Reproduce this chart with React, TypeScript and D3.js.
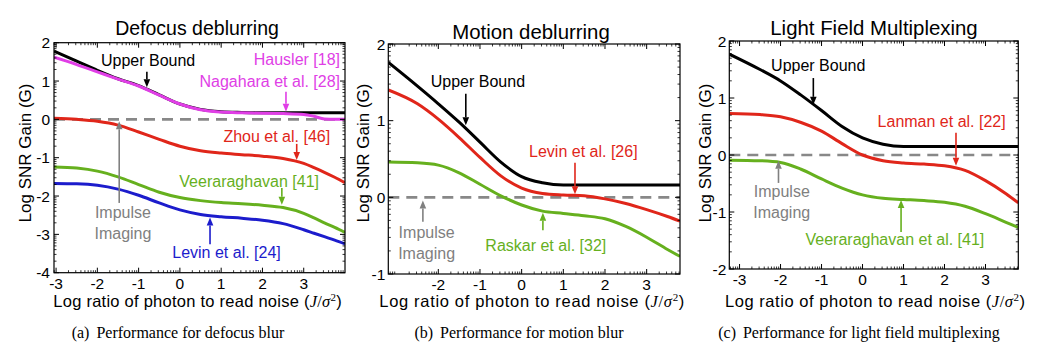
import React from 'react';
import * as d3 from 'd3';

const W = 1044;
const H = 354;
const SANS = '"Liberation Sans", Arial, sans-serif';
const SERIF = '"Liberation Serif", "Times New Roman", serif';

const BLACK = '#000000';
const MAGENTA = '#e03ee6';
const RED = '#e0261a';
const GREEN = '#66b01e';
const BLUE = '#1c1ccc';
const GRAY = '#888888';

// (a) defocus deblurring
const xA = [-3.05, -2.5, -2, -1.5, -1, -0.5, 0, 0.5, 1, 1.5, 2, 2.5, 3, 3.25, 3.5, 3.75, 4];
const upperA = [1.78, 1.52, 1.28, 1.06, 0.88, 0.64, 0.4, 0.26, 0.2, 0.18, 0.17, 0.17, 0.17, 0.17, 0.17, 0.17, 0.17];
const hauslerA = [1.62, 1.43, 1.24, 1.05, 0.87, 0.63, 0.4, 0.25, 0.19, 0.17, 0.16, 0.15, 0.13, 0.08, 0.01, 0.0, 0.0];
const zhouA = [0.03, 0.0, -0.05, -0.15, -0.33, -0.52, -0.7, -0.82, -0.88, -0.92, -0.96, -1.02, -1.15, -1.26, -1.38, -1.51, -1.65];
const veeraA = [-1.24, -1.27, -1.35, -1.5, -1.7, -1.9, -2.04, -2.12, -2.17, -2.2, -2.24, -2.3, -2.45, -2.57, -2.7, -2.82, -2.95];
const levinA = [-1.67, -1.68, -1.72, -1.82, -1.98, -2.18, -2.36, -2.48, -2.54, -2.58, -2.63, -2.72, -2.88, -2.97, -3.06, -3.15, -3.25];

// (b) motion deblurring
const xB = [-3.2, -2.5, -2, -1.5, -1, -0.5, 0, 0.5, 1, 1.5, 2, 2.5, 3, 3.5, 3.8];
const upperB = [1.76, 1.45, 1.22, 0.98, 0.72, 0.46, 0.27, 0.19, 0.16, 0.16, 0.16, 0.16, 0.16, 0.16, 0.16];
const levinB = [1.4, 1.22, 1.02, 0.78, 0.52, 0.28, 0.12, 0.05, 0.03, 0.02, -0.02, -0.08, -0.16, -0.25, -0.31];
const raskarB = [0.46, 0.45, 0.42, 0.32, 0.17, 0.02, -0.1, -0.18, -0.21, -0.24, -0.28, -0.38, -0.52, -0.68, -0.77];

// (c) light field multiplexing
const xC = [-3.25, -2.5, -2, -1.5, -1, -0.5, 0, 0.5, 1, 1.5, 2, 2.5, 3, 3.5, 3.8];
const upperC = [1.77, 1.5, 1.3, 1.05, 0.78, 0.5, 0.3, 0.19, 0.15, 0.15, 0.15, 0.15, 0.15, 0.15, 0.15];
const lanmanC = [0.73, 0.71, 0.67, 0.57, 0.42, 0.2, 0.0, -0.1, -0.14, -0.16, -0.19, -0.27, -0.45, -0.68, -0.84];
const veeraC = [-0.09, -0.1, -0.13, -0.25, -0.42, -0.58, -0.7, -0.76, -0.78, -0.8, -0.83, -0.9, -1.03, -1.18, -1.27];

const xTicksA = [-3, -2, -1, 0, 1, 2, 3];
const xTicksB = [-2, -1, 0, 1, 2, 3];
const xTicksC = [-3, -2, -1, 0, 1, 2, 3];
const yTicksA = [-4, -3, -2, -1, 0, 1, 2];
const yTicksB = [-1, 0, 1, 2];
const yTicksC = [-2, -1, 0, 1, 2];

// annotations in data units: label position and an optional vertical arrow
const notesA = [
  { lines: ['Upper Bound'], color: BLACK, anchor: 'middle', x: -0.77, y: 1.4, ax: -0.8, a0: 1.24, a1: 0.84 },
  { lines: ['Hausler [18]'], color: MAGENTA, anchor: 'end', x: 3.88, y: 1.42 },
  { lines: ['Nagahara et al. [28]'], color: MAGENTA, anchor: 'end', x: 3.88, y: 0.84, ax: 2.57, a0: 0.72, a1: 0.2 },
  { lines: ['Zhou et al. [46]'], color: RED, anchor: 'end', x: 3.64, y: -0.58, ax: 2.83, a0: -0.64, a1: -1.06 },
  { lines: ['Veeraraghavan [41]'], color: GREEN, anchor: 'end', x: 3.37, y: -1.76, ax: 2.47, a0: -1.79, a1: -2.23 },
  { lines: ['Levin et al. [24]'], color: BLUE, anchor: 'middle', x: 1.13, y: -3.62, ax: 0.73, a0: -3.26, a1: -2.56 },
  { lines: ['Impulse', 'Imaging'], color: '#808080', anchor: 'middle', x: -1.38, y: -2.57, ax: -1.47, a0: -2.18, a1: -0.05, gap: 0.55 },
];
const notesB = [
  { lines: ['Upper Bound'], color: BLACK, anchor: 'middle', x: -1.05, y: 1.44, ax: -1.34, a0: 1.35, a1: 0.94 },
  { lines: ['Levin et al. [26]'], color: RED, anchor: 'middle', x: 1.48, y: 0.53, ax: 1.28, a0: 0.45, a1: 0.04 },
  { lines: ['Raskar et al. [32]'], color: GREEN, anchor: 'middle', x: 0.58, y: -0.7, ax: 0.51, a0: -0.43, a1: -0.2 },
  { lines: ['Impulse', 'Imaging'], color: '#808080', anchor: 'middle', x: -2.28, y: -0.53, ax: -2.37, a0: -0.32, a1: -0.04, gap: 0.27 },
];
const notesC = [
  { lines: ['Upper Bound'], color: BLACK, anchor: 'middle', x: -1.08, y: 1.48, ax: -1.2, a0: 1.35, a1: 0.88 },
  { lines: ['Lanman et al. [22]'], color: RED, anchor: 'middle', x: 1.93, y: 0.5, ax: 2.28, a0: 0.39, a1: -0.19 },
  { lines: ['Impulse', 'Imaging'], color: '#808080', anchor: 'middle', x: -1.97, y: -0.73, ax: -2.05, a0: -0.49, a1: -0.1, gap: 0.38 },
  { lines: ['Veeraraghavan et al. [41]'], color: GREEN, anchor: 'middle', x: 0.79, y: -1.58, ax: 0.94, a0: -1.35, a1: -0.79 },
];

const panels = [
  {
    key: 'a', left: 54, right: 345, top: 42.7, bottom: 272.7,
    xDomain: [-3.05, 4.0], yDomain: [-4, 2], xTicks: xTicksA, yTicks: yTicksA,
    title: 'Defocus deblurring', titleX: 197, titleY: 34.5, titleSize: 19.5,
    xlabL: 53.3, xlabR: 341.7, ylabX: 31, tickGap: 4,
    caption: ['(a)', 'Performance for defocus blur'], captionX: 178,
    series: [
      { x: xA, y: upperA, color: BLACK },
      { x: xA, y: hauslerA, color: MAGENTA },
      { x: xA, y: zhouA, color: RED },
      { x: xA, y: veeraA, color: GREEN },
      { x: xA, y: levinA, color: BLUE },
    ],
    notes: notesA,
  },
  {
    key: 'b', left: 388.3, right: 680, top: 44, bottom: 274,
    xDomain: [-3.2, 3.8], yDomain: [-1, 2], xTicks: xTicksB, yTicks: yTicksB,
    title: 'Motion deblurring', titleX: 531, titleY: 39, titleSize: 20.4,
    xlabL: 379.3, xlabR: 684.3, ylabX: 369, tickGap: 3,
    caption: ['(b)', 'Performance for motion blur'], captionX: 519,
    series: [
      { x: xB, y: upperB, color: BLACK },
      { x: xB, y: levinB, color: RED },
      { x: xB, y: raskarB, color: GREEN },
    ],
    notes: notesB,
  },
  {
    key: 'c', left: 729.3, right: 1018.3, top: 41, bottom: 269,
    xDomain: [-3.25, 3.8], yDomain: [-2, 2], xTicks: xTicksC, yTicks: yTicksC,
    title: 'Light Field Multiplexing', titleX: 874, titleY: 34.5, titleSize: 20.4,
    xlabL: 725, xlabR: 1025, ylabX: 711, tickGap: 3,
    caption: ['(c)', 'Performance for light field multiplexing'], captionX: 859,
    series: [
      { x: xC, y: upperC, color: BLACK },
      { x: xC, y: lanmanC, color: RED },
      { x: xC, y: veeraC, color: GREEN },
    ],
    notes: notesC,
  },
];

function minorTicks(domain: number[]) {
  const out: number[] = [];
  for (let n = Math.floor(domain[0]) - 1; n <= Math.ceil(domain[1]); n++) {
    for (let k = 2; k <= 9; k++) {
      const v = n + Math.log10(k);
      if (v > domain[0] && v < domain[1]) out.push(v);
    }
  }
  return out;
}

function Arrow({ x, y0, y1, color }: any) {
  const dir = y1 > y0 ? 1 : -1;
  const head = 8;
  const hw = 3.3;
  return (
    <g>
      <line x1={x} x2={x} y1={y0} y2={y1 - dir * head} stroke={color} strokeWidth={1.6} />
      <path d={`M${x - hw},${y1 - dir * head} L${x + hw},${y1 - dir * head} L${x},${y1} Z`} fill={color} />
    </g>
  );
}

function Panel({ p }: any) {
  const x = d3.scaleLinear().domain(p.xDomain).range([p.left, p.right]);
  const y = d3.scaleLinear().domain(p.yDomain).range([p.bottom, p.top]);
  const line = d3.line<number>().curve(d3.curveMonotoneX);
  const xMinor = minorTicks(p.xDomain);
  const yMinor = minorTicks(p.yDomain);
  const major = 5;
  const minor = 2.5;
  const midY = 153;

  return (
    <g>
      <defs>
        <clipPath id={`clip-${p.key}`}>
          <rect x={p.left} y={p.top} width={p.right - p.left} height={p.bottom - p.top} />
        </clipPath>
      </defs>
      <text x={p.titleX} y={p.titleY} textAnchor="middle" fontFamily={SANS} fontSize={p.titleSize}>{p.title}</text>

      <g clipPath={`url(#clip-${p.key})`}>
        <line x1={p.left} x2={p.right} y1={y(0)} y2={y(0)} stroke={GRAY} strokeWidth={2.6} strokeDasharray="11 7" />
        {p.series.map((s: any, i: number) => (
          <path key={i} d={line(s.x.map((v: number, j: number) => [x(v), y(s.y[j])]) as any) || ''}
            fill="none" stroke={s.color} strokeWidth={3} strokeLinejoin="round" />
        ))}
      </g>

      {/* frame and ticks */}
      <rect x={p.left} y={p.top} width={p.right - p.left} height={p.bottom - p.top} fill="none" stroke="#000" strokeWidth={1.2} />
      {p.xTicks.map((t: number) => (
        <g key={`xt${t}`}>
          <line x1={x(t)} x2={x(t)} y1={p.bottom} y2={p.bottom - major} stroke="#000" />
          <line x1={x(t)} x2={x(t)} y1={p.top} y2={p.top + major} stroke="#000" />
          <text x={x(t)} y={p.bottom + 16} textAnchor="middle" fontFamily={SANS} fontSize={15.5}>{t < 0 ? `-${-t}` : t}</text>
        </g>
      ))}
      {xMinor.map((t: number, i: number) => (
        <g key={`xm${i}`}>
          <line x1={x(t)} x2={x(t)} y1={p.bottom} y2={p.bottom - minor} stroke="#000" strokeWidth={0.8} />
          <line x1={x(t)} x2={x(t)} y1={p.top} y2={p.top + minor} stroke="#000" strokeWidth={0.8} />
        </g>
      ))}
      {p.yTicks.map((t: number) => (
        <g key={`yt${t}`}>
          <line x1={p.left} x2={p.left + major} y1={y(t)} y2={y(t)} stroke="#000" />
          <line x1={p.right} x2={p.right - major} y1={y(t)} y2={y(t)} stroke="#000" />
          <text x={p.left - p.tickGap} y={y(t)} dy="0.36em" textAnchor="end" fontFamily={SANS} fontSize={15.5}>{t < 0 ? `-${-t}` : t}</text>
        </g>
      ))}
      {yMinor.map((t: number, i: number) => (
        <g key={`ym${i}`}>
          <line x1={p.left} x2={p.left + minor} y1={y(t)} y2={y(t)} stroke="#000" strokeWidth={0.8} />
          <line x1={p.right} x2={p.right - minor} y1={y(t)} y2={y(t)} stroke="#000" strokeWidth={0.8} />
        </g>
      ))}

      {/* annotations */}
      {p.notes.map((n: any, i: number) => (
        <g key={`n${i}`}>
          {n.lines.map((l: string, j: number) => (
            <text key={j} x={x(n.x)} y={y(n.y - j * (n.gap || 0))} textAnchor={n.anchor} fill={n.color}
              fontFamily={SANS} fontSize={16}>{l}</text>
          ))}
          {n.ax !== undefined && <Arrow x={x(n.ax)} y0={y(n.a0)} y1={y(n.a1)} color={n.color} />}
        </g>
      ))}

      {/* axis labels */}
      <text transform={`translate(${p.ylabX},${midY}) rotate(-90)`} textAnchor="middle" fontFamily={SANS} fontSize={17}>
        Log SNR Gain (G)
      </text>
      <text x={(p.xlabL + p.xlabR) / 2} y={307} textAnchor="middle" fontFamily={SANS} fontSize={16.5}
        textLength={p.xlabR - p.xlabL}>
        Log ratio of photon to read noise (
        <tspan fontFamily={SERIF} fontStyle="italic">J</tspan>
        <tspan fontFamily={SERIF}>/</tspan>
        <tspan fontFamily={SERIF} fontStyle="italic">σ</tspan>
        <tspan fontFamily={SERIF} fontSize={11} dy={-6}>2</tspan>
        <tspan dy={6}>)</tspan>
      </text>
      <text x={p.captionX} y={338.3} textAnchor="middle" fontFamily={SERIF} fontSize={16}>
        {p.caption[0]}<tspan dx={7}>{p.caption[1]}</tspan>
      </text>
    </g>
  );
}

export default function App() {
  return (
    <svg width={W} height={H} viewBox={`0 0 ${W} ${H}`} style={{ position: 'absolute', left: 0, top: 0, background: '#fff' }}
      xmlns="http://www.w3.org/2000/svg">
      <rect width={W} height={H} fill="#fff" />
      {panels.map((p) => <Panel key={p.key} p={p} />)}
    </svg>
  );
}
